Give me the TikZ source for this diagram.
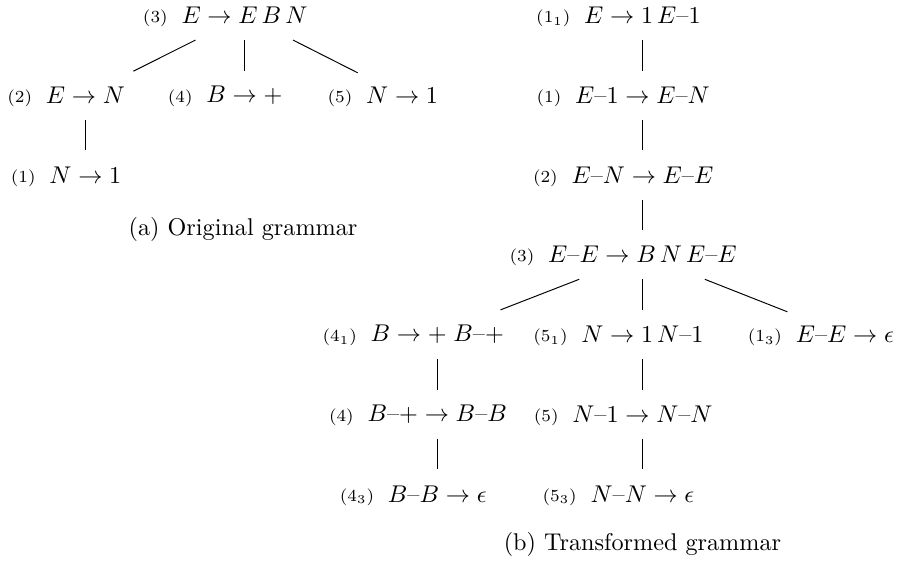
\documentclass[tikz,border=0pt]{standalone}
\usepackage{amsmath}
\usepackage{amssymb}
\usepackage{tikz}
\usetikzlibrary{positioning, calc}
\newcommand{\ds}{\text{--}}

\begin{document}
\begin{tikzpicture}[
    every node/.style={inner sep=3pt},
    rule/.style={minimum height=7mm, inner xsep=3.3pt},
    rlabel/.style={font=\scriptsize, inner sep=2pt, yshift=-1.2pt},
    link/.style={draw=black, line width=0.4pt},
    subcap/.style={font=\normalsize}
  ]
  \useasboundingbox (0,0) rectangle (13.056,-8.147);

  % ===== (a) ORIGINAL GRAMMAR =====
  \node[rule, label={[rlabel]left:(3)}] (a3) at (3.55,-0.225) {$E \to E\,B\,N$};
  \node[rule, label={[rlabel]left:(2)}] (a2) at ($(a3) + (-2.31,-1.158)$) {$E \to N$};
  \node[rule, label={[rlabel]left:(4)}] (a4) at ($(a3) + (0,-1.158)$)     {$B \to +$};
  \node[rule, label={[rlabel]left:(5)}] (a5) at ($(a3) + (2.29,-1.158)$)  {$N \to 1$};
  \node[rule, label={[rlabel]left:(1)}] (a1) at ($(a2) + (0,-1.158)$)     {$N \to 1$};
  \draw[link] (a3) -- (a2);
  \draw[link] (a3) -- (a4);
  \draw[link] (a3) -- (a5);
  \draw[link] (a2) -- (a1);

  \node[subcap] (capa) at (3.53,-3.33) {(a) Original grammar};

  % ===== (b) TRANSFORMED GRAMMAR =====
  \node[rule, label={[rlabel]left:(1$_1$)}] (b11) at (9.33,-0.225) {$E \to 1\,E\ds 1$};
  \node[rule, label={[rlabel]left:(1)}]     (b1)  at ($(b11) + (0,-1.158)$) {$E\ds 1 \to E\ds N$};
  \node[rule, label={[rlabel]left:(2)}]     (b2)  at ($(b1)  + (0,-1.158)$) {$E\ds N \to E\ds E$};
  \node[rule, label={[rlabel]left:(3)}]     (b3)  at ($(b2)  + (0,-1.158)$) {$E\ds E \to B\,N\,E\ds E$};
  \node[rule, label={[rlabel]left:(4$_1$)}] (b41) at ($(b3) + (-2.98,-1.158)$) {$B \to +\;B\ds +$};
  \node[rule, label={[rlabel]left:(5$_1$)}] (b51) at ($(b3) + (0,-1.158)$)     {$N \to 1\,N\ds 1$};
  \node[rule, label={[rlabel]left:(1$_3$)}] (b13) at ($(b3) + (2.94,-1.158)$)  {$E\ds E \to \epsilon$};
  \node[rule, label={[rlabel]left:(4)}]     (b4)  at ($(b41) + (0,-1.158)$) {$B\ds + \to B\ds B$};
  \node[rule, label={[rlabel]left:(5)}]     (b5)  at ($(b51) + (0,-1.158)$) {$N\ds 1 \to N\ds N$};
  \node[rule, label={[rlabel]left:(4$_3$)}] (b43) at ($(b4)  + (0,-1.158)$) {$B\ds B \to \epsilon$};
  \node[rule, label={[rlabel]left:(5$_3$)}] (b53) at ($(b5)  + (0,-1.158)$) {$N\ds N \to \epsilon$};
  \draw[link] (b11) -- (b1);
  \draw[link] (b1)  -- (b2);
  \draw[link] (b2)  -- (b3);
  \draw[link] (b3)  -- (b41);
  \draw[link] (b3)  -- (b51);
  \draw[link] (b3)  -- (b13);
  \draw[link] (b41) -- (b4);
  \draw[link] (b4)  -- (b43);
  \draw[link] (b51) -- (b5);
  \draw[link] (b5)  -- (b53);

  \node[subcap] (capb) at (9.33,-7.90) {(b) Transformed grammar};

\end{tikzpicture}
\end{document}
